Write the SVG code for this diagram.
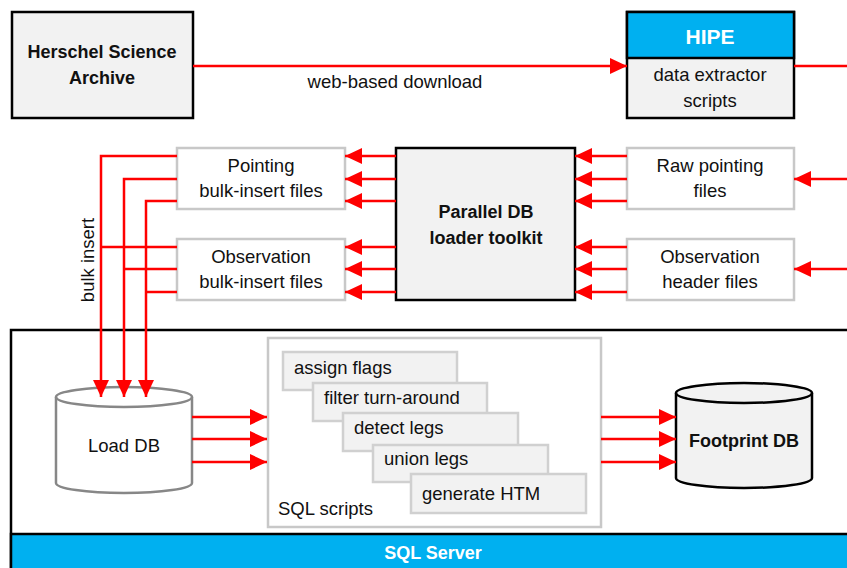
<svg xmlns="http://www.w3.org/2000/svg" width="847" height="568" viewBox="0 0 847 568">
<defs>
<marker id="ah" markerUnits="userSpaceOnUse" markerWidth="18" markerHeight="18" refX="17" refY="8" orient="auto">
<path d="M0,0 L17,8 L0,16 z" fill="#FF0000"/>
</marker>
<style>
text{font-family:"Liberation Sans",Arial,sans-serif;font-size:18.5px;fill:#111;}
.c{text-anchor:middle;}
.b{font-weight:bold;font-size:18px;}
.w{fill:#fff;}
.blk{fill:#f2f2f2;stroke:#000;stroke-width:2.5;}
.gry{fill:#fff;stroke:#c8c8c8;stroke-width:2.5;}
.stk{fill:#f2f2f2;stroke:#d0d0d0;stroke-width:2.5;}
.r{fill:none;stroke:#FF0000;stroke-width:2.5;}
.a{marker-end:url(#ah);}
</style>
</defs>
<rect width="847" height="568" fill="#fff"/>

<g id="sqlserver">
<rect x="11" y="330" width="860" height="250" fill="#fff" stroke="#000" stroke-width="2.5"/>
<rect x="11" y="534" width="860" height="40" fill="#00B0F0" stroke="#000" stroke-width="2.5"/>
<text class="c b w" x="433" y="559">SQL Server</text>
</g>

<g id="hsa">
<rect class="blk" x="12" y="12" width="181" height="106"/>
<text class="c b" x="102" y="58">Herschel Science</text>
<text class="c b" x="102" y="84">Archive</text>
</g>

<g id="hipe">
<rect class="blk" x="627" y="12" width="167" height="106"/>
<rect x="627" y="12" width="167" height="46" fill="#00B0F0" stroke="#000" stroke-width="2.5"/>
<text class="c b w" x="710" y="44" style="font-size:21px">HIPE</text>
<text class="c" x="710" y="81">data extractor</text>
<text class="c" x="710" y="107">scripts</text>
</g>

<g id="pbif">
<rect class="gry" x="177" y="148" width="168" height="61"/>
<text class="c" x="261" y="172">Pointing</text>
<text class="c" x="261" y="197">bulk-insert files</text>
</g>

<g id="obif">
<rect class="gry" x="177" y="239" width="168" height="61"/>
<text class="c" x="261" y="263">Observation</text>
<text class="c" x="261" y="288">bulk-insert files</text>
</g>

<g id="pdb">
<rect class="blk" x="396" y="148" width="179" height="152"/>
<text class="c b" x="486" y="218">Parallel DB</text>
<text class="c b" x="486" y="244">loader toolkit</text>
</g>

<g id="rpf">
<rect class="gry" x="627" y="148" width="167" height="61"/>
<text class="c" x="710" y="172">Raw pointing</text>
<text class="c" x="710" y="197">files</text>
</g>

<g id="ohf">
<rect class="gry" x="627" y="239" width="167" height="61"/>
<text class="c" x="710" y="263">Observation</text>
<text class="c" x="710" y="288">header files</text>
</g>

<g id="sqlscripts">
<rect class="gry" x="268" y="338" width="333" height="189"/>
<text x="278" y="515">SQL scripts</text>
<rect class="stk" x="283" y="352" width="174" height="38"/>
<text x="294" y="374">assign flags</text>
<rect class="stk" x="313" y="383" width="174" height="38"/>
<text x="324" y="404">filter turn-around</text>
<rect class="stk" x="343" y="413" width="175" height="38"/>
<text x="354" y="434">detect legs</text>
<rect class="stk" x="373" y="445" width="175" height="37"/>
<text x="384" y="465">union legs</text>
<rect class="stk" x="411" y="474" width="175" height="39"/>
<text x="422" y="500">generate HTM</text>
</g>

<g id="loaddb">
<path d="M56,397 A68,10 0 0 1 192,397 L192,483 A68,10 0 0 1 56,483 Z" fill="#fff" stroke="#878787" stroke-width="2.5"/>
<path d="M56,397 A68,10 0 0 0 192,397" fill="none" stroke="#878787" stroke-width="2.5"/>
<text class="c" x="124" y="452">Load DB</text>
</g>

<g id="footprintdb">
<path d="M676,393 A68,10 0 0 1 812,393 L812,478 A68,10 0 0 1 676,478 Z" fill="#f2f2f2" stroke="#000" stroke-width="2.5"/>
<path d="M676,393 A68,10 0 0 0 812,393" fill="none" stroke="#000" stroke-width="2.5"/>
<text class="c b" x="744" y="447">Footprint DB</text>
</g>

<g id="connectors">
<line class="r a" x1="193" y1="66" x2="627" y2="66"/>
<text class="c" x="395" y="88">web-based download</text>
<line class="r" x1="794" y1="66" x2="847" y2="66"/>
<line class="r a" x1="847" y1="179" x2="794" y2="179"/>
<line class="r a" x1="847" y1="269" x2="794" y2="269"/>

<line class="r a" x1="627" y1="156" x2="575" y2="156"/>
<line class="r a" x1="627" y1="179" x2="575" y2="179"/>
<line class="r a" x1="627" y1="201" x2="575" y2="201"/>
<line class="r a" x1="627" y1="247" x2="575" y2="247"/>
<line class="r a" x1="627" y1="269" x2="575" y2="269"/>
<line class="r a" x1="627" y1="292" x2="575" y2="292"/>

<line class="r a" x1="396" y1="156" x2="345" y2="156"/>
<line class="r a" x1="396" y1="179" x2="345" y2="179"/>
<line class="r a" x1="396" y1="201" x2="345" y2="201"/>
<line class="r a" x1="396" y1="247" x2="345" y2="247"/>
<line class="r a" x1="396" y1="269" x2="345" y2="269"/>
<line class="r a" x1="396" y1="292" x2="345" y2="292"/>

<polyline class="r a" points="177,156 101,156 101,397"/>
<polyline class="r a" points="177,179 124,179 124,397"/>
<polyline class="r a" points="177,201 146,201 146,397"/>
<line class="r" x1="177" y1="247" x2="101" y2="247"/>
<line class="r" x1="177" y1="269" x2="124" y2="269"/>
<line class="r" x1="177" y1="292" x2="146" y2="292"/>
<text class="c" transform="translate(94,260) rotate(-90)">bulk insert</text>

<line class="r a" x1="192" y1="417" x2="267" y2="417"/>
<line class="r a" x1="192" y1="439" x2="267" y2="439"/>
<line class="r a" x1="192" y1="462" x2="267" y2="462"/>
<line class="r a" x1="601" y1="417" x2="676" y2="417"/>
<line class="r a" x1="601" y1="439" x2="676" y2="439"/>
<line class="r a" x1="601" y1="462" x2="676" y2="462"/>
</g>
</svg>
